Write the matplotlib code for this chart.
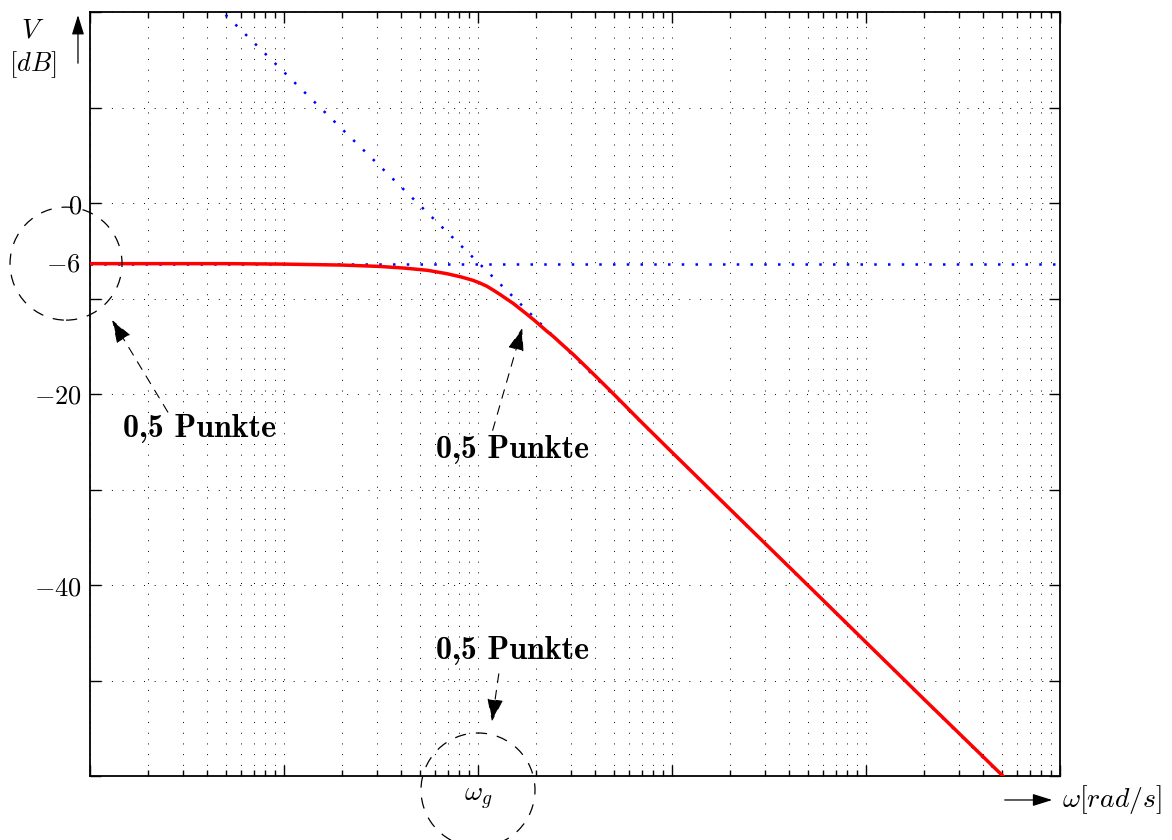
import numpy as np
import matplotlib
matplotlib.use('Agg')
import matplotlib.pyplot as plt
from matplotlib.patches import Ellipse
from matplotlib import transforms
from matplotlib.ticker import LogLocator, NullFormatter, FixedLocator

plt.rcParams['mathtext.fontset'] = 'cm'
plt.rcParams['font.family'] = 'serif'
plt.rcParams['font.serif'] = ['DejaVu Serif']

# ---- data ----
omega = [0.01, 0.05, 0.1, 0.2, 0.31, 0.42, 0.55, 0.69, 0.81, 0.94, 1.02, 1.11,
         1.2, 1.3, 1.4, 1.52, 1.65, 1.79, 1.94, 2.09, 2.25, 2.44, 2.75, 3.09,
         3.5, 4.0, 5.0, 7.0, 10.0, 20.0, 50.0, 100.0, 200.0, 508.0]
gain_db = [-6.35, -6.35, -6.4, -6.5, -6.64, -6.82, -7.05, -7.40, -7.72, -8.09,
           -8.37, -8.71, -9.13, -9.58, -10.03, -10.52, -11.09, -11.66, -12.24,
           -12.81, -13.38, -13.96, -14.92, -15.84, -16.9, -18.05, -20.0, -23.0,
           -26.1, -32.1, -40.0, -46.0, -52.0, -60.0]
flat_omega = [0.01, 1000.0]
flat_db = [-6.35, -6.35]
slope_omega = [0.05, 508.0]
slope_db = [19.7, -60.1]

ytick_vals = [-60, -50, -40, -30, -20, -10, 0, 10, 20]
ytick_labels = ['', '', '$-40$', '', '$-20$', '', '$0$', '', '']
omega_g = 1.0

fig = plt.figure(figsize=(11.72, 8.4), dpi=100)
ax = fig.add_axes([90/1172, 64/840, 970/1172, 764/840])
ax.set_xscale('log')
ax.set_xlim(0.01, 1000)
ax.set_ylim(-60, 20)

dot = (0, (1, 10))
ax.xaxis.set_major_locator(LogLocator(base=10))
ax.xaxis.set_minor_locator(LogLocator(base=10, subs=np.arange(2, 10)))
ax.xaxis.set_major_formatter(NullFormatter())
ax.xaxis.set_minor_formatter(NullFormatter())
ax.yaxis.set_major_locator(FixedLocator(ytick_vals))
ax.set_yticklabels(ytick_labels)
ax.grid(True, which='major', axis='both', color='black', linestyle=dot, lw=0.7)
ax.grid(True, which='minor', axis='x', color='black', linestyle=dot, lw=0.7)
ax.tick_params(which='both', direction='in', top=True, right=True,
               labelsize=19, pad=6, width=1.0)
ax.tick_params(which='major', length=8)
ax.tick_params(which='minor', length=4)
for s in ax.spines.values():
    s.set_linewidth(1.3)

ax.plot(flat_omega, flat_db, color='blue', lw=1.8, linestyle=(0, (1, 4.5)), zorder=2)
ax.plot(slope_omega, slope_db, color='blue', lw=1.8, linestyle=(0, (1, 4.5)), zorder=2)
ax.plot(omega, gain_db, color='red', lw=2.5, zorder=3)

# -6 label
ax.text(-0.0093, flat_db[0], '$-6$', transform=ax.get_yaxis_transform(),
        ha='right', va='center', fontsize=19)

# omega_g label
ax.text(omega_g, -0.029, r'$\omega_g$', transform=ax.get_xaxis_transform(),
        ha='center', va='center', fontsize=20)

# dashed circles
e1 = Ellipse((0, 0), width=1.12, height=1.13, fill=False, ls=(0, (9, 8)), lw=0.9,
             edgecolor='black',
             transform=fig.dpi_scale_trans + transforms.ScaledTranslation(
                 -0.0247, flat_db[0], ax.get_yaxis_transform()))
fig.add_artist(e1)
e2 = Ellipse((0, 0), width=1.14, height=1.14, fill=False, ls=(0, (9, 8)), lw=0.9,
             edgecolor='black',
             transform=fig.dpi_scale_trans + transforms.ScaledTranslation(
                 omega_g, -0.0183, ax.get_xaxis_transform()))
fig.add_artist(e2)

# annotations
aprops = dict(arrowstyle='-|>,head_length=0.95,head_width=0.33', linestyle=(0, (8, 7)),
              lw=0.8, color='black', shrinkA=0, shrinkB=0, mutation_scale=15)
ax.annotate('', xy=(0.013, -12.25), xytext=(0.0252, -21.9), arrowprops=aprops,
            annotation_clip=False)
ax.annotate('', xy=(1.69, -13.1), xytext=(1.19, -23.8), arrowprops=aprops,
            annotation_clip=False)
ax.annotate('', xy=(1.18, -54.3), xytext=(1.28, -49.3), arrowprops=aprops,
            annotation_clip=False)
ptxt = '0,5 Punkte'
for (px, py) in [(0.0367, -23.6), (1.506, -25.8), (1.506, -46.9)]:
    ax.text(px, py, ptxt, ha='center', va='center', fontsize=23,
            family='cmb10')

# axis arrows and labels
hprops = dict(arrowstyle='-|>,head_length=0.8,head_width=0.25', lw=0.9,
              color='black', shrinkA=0, shrinkB=0, mutation_scale=15)
ax.annotate('', xy=(-0.0124, 0.996), xytext=(-0.0124, 0.933), xycoords='axes fraction',
            arrowprops=hprops, annotation_clip=False)
ax.annotate('', xy=(0.992, -0.0314), xytext=(0.943, -0.0314), xycoords='axes fraction',
            arrowprops=hprops, annotation_clip=False)
ax.text(-0.0588, 0.977, '$V$', transform=ax.transAxes, ha='center', va='center', fontsize=20)
ax.text(-0.0588, 0.931, '$[dB]$', transform=ax.transAxes, ha='center', va='center', fontsize=19)
ax.text(1.002, -0.0314, r'$\omega[rad/s]$', transform=ax.transAxes, ha='left',
        va='center', fontsize=20)

fig.savefig('out.png', dpi=100)
